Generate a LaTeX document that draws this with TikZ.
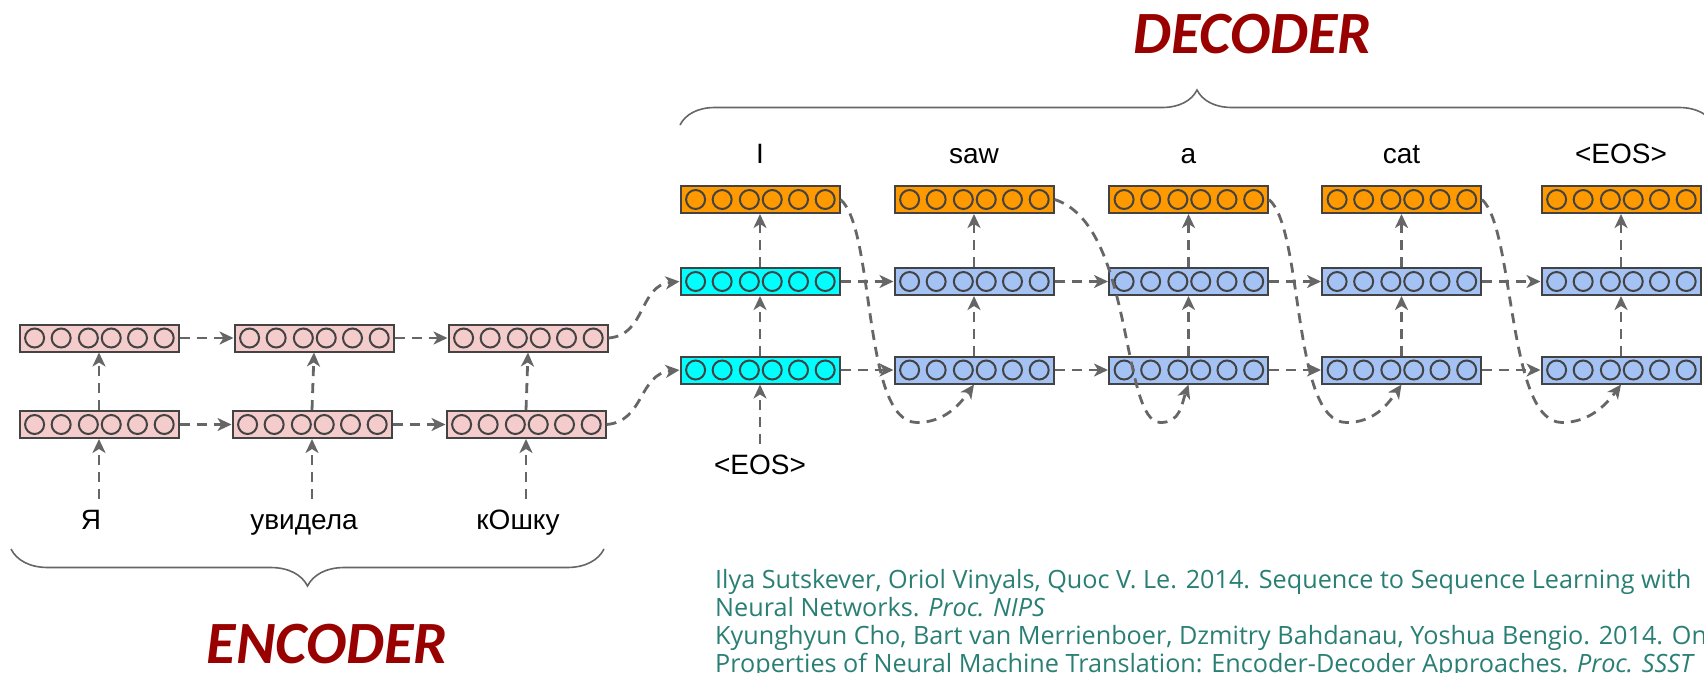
\documentclass[tikz,border=0pt]{standalone}
\usepackage{fontspec}
\setmainfont{Liberation Sans}
\newfontfamily\refsfont{Open Sans}
\newfontfamily\bannerfont{Carlito}
\usetikzlibrary{arrows.meta,positioning,calc,decorations.pathreplacing}
\definecolor{rim}{RGB}{67,67,67}
\definecolor{wire}{RGB}{102,102,102}
\definecolor{rose}{RGB}{244,204,204}
\definecolor{tangerine}{RGB}{255,153,0}
\definecolor{aqua}{RGB}{0,255,255}
\definecolor{sky}{RGB}{164,194,244}
\definecolor{crimson}{RGB}{153,0,0}
\definecolor{sea}{RGB}{42,127,117}
\tikzset{
  >={Stealth[length=14pt,width=13pt,inset=4pt]},
  vec/.style={draw=rim,line width=2pt,fill=#1,minimum width=159pt,minimum height=27pt,inner sep=0pt,
    path picture={
      \foreach \u in {0.095,0.262,0.433,0.577,0.742,0.91}
        \draw[rim,line width=2pt] ($(path picture bounding box.west)!\u!(path picture bounding box.east)$) circle[radius=9.5pt];
    }},
  vec/.default=sky,
  flow/.style={->,draw=wire,line width=2.8pt,dash pattern=on 10pt off 7pt},
  tag/.style={font=\fontsize{28}{30}\selectfont,text height=20pt,text depth=6pt,inner sep=10pt},
  banner/.style={font=\bannerfont\bfseries\itshape\fontsize{60}{66}\selectfont,text=crimson,inner sep=0pt,text depth=0pt,anchor=base},
  refline/.style={font=\refsfont\fontsize{25.2}{28}\selectfont,text=sea,inner sep=0pt,anchor=base west},
  curly/.style={draw=wire,line width=1.6pt,decorate,decoration={brace,amplitude=#1}},
}
\begin{document}
\begin{tikzpicture}[x=1pt,y=-1pt]
  \useasboundingbox (0,0) rectangle (1704,672);
  \clip (0,0) rectangle (1704,672);

  % encoder
  \foreach \x/\xb [count=\i] in {99/99,314/312,528/526}{
    \node[vec=rose] (etop\i) at (\x,338) {};
    \node[vec=rose] (ebot\i) at (\xb,424.5) {};
  }
  \foreach \w [count=\i] in {Я,увидела,кОшку}
    \node[tag,anchor=base] (src\i) at ($(ebot\i.south)+(-8,90)$) {\w};
  \foreach \i in {1,2,3}{
    \draw[flow] (src\i.north -| ebot\i.south) -- (ebot\i.south);
    \draw[flow] (ebot\i.north) -- (etop\i.south);
  }
  \foreach \i/\j in {1/2,2/3}{
    \draw[flow] (etop\i.east) -- (etop\j.west);
    \draw[flow] (ebot\i.east) -- (ebot\j.west);
  }

  % decoder
  \foreach \x/\c [count=\i] in {760/aqua,974/sky,1188.5/sky,1401.5/sky,1621/sky}{
    \node[vec=tangerine] (dtop\i) at (\x,199.5) {};
    \node[vec=\c] (dmid\i) at (\x,281.5) {};
    \node[vec=\c] (dbot\i) at (\x,370) {};
  }
  \foreach \w [count=\i] in {I,saw,a,cat,<EOS>}
    \node[tag,anchor=base] (tgt\i) at ($(dtop\i.north)+(0,-22)$) {\w};
  \node[tag,anchor=base] (go) at ($(dbot1.south)+(0,89.5)$) {<EOS>};
  \draw[flow] (go.north) -- (dbot1.south);
  \foreach \i in {1,...,5}{
    \draw[flow] (dbot\i.north) -- (dmid\i.south);
    \draw[flow] (dmid\i.north) -- (dtop\i.south);
  }
  \foreach \i/\j in {1/2,2/3,3/4,4/5}{
    \draw[flow] (dmid\i.east) -- (dmid\j.west);
    \draw[flow] (dbot\i.east) -- (dbot\j.west);
  }
  % feed the word back in
  \foreach \i/\j/\ox/\oy/\bx/\lx in {1/2/35/30/-57/55,2/3/80/25/-28/40,3/4/35/30/-55/55,4/5/33/30/-59/55}
    \draw[flow] (dtop\i.east) .. controls ($(dtop\i.east)+(\ox,\oy)$) and ($(dbot\j.south)+(\bx-\lx,38)$)
      .. ($(dbot\j.south)+(\bx,38)$) .. controls ($(dbot\j.south)+(\bx+\lx/2,38)$) and ($(dbot\j.south)+(\bx/4,20)$)
      .. (dbot\j.south);

  % hand over the state
  \draw[flow] (etop3.east) .. controls ($(etop3.east)+(38,-3)$) and ($(dmid1.west)+(-41,4)$) .. (dmid1.west);
  \draw[flow] (ebot3.east) .. controls ($(ebot3.east)+(38,-3)$) and ($(dbot1.west)+(-41,4)$) .. (dbot1.west);

  \draw[curly=35] (680,125) -- (1714,125);
  \draw[curly=37] (604,549) -- (11,549);
  \node[banner] (dec) at (1252.5,53) {DECODER};
  \node[banner] (enc) at (327,663) {ENCODER};

  \node[refline] (ref1) at (715,588) {Ilya Sutskever, Oriol Vinyals, Quoc V. Le. 2014. Sequence to Sequence Learning with};
  \node[refline] (ref2) at (715,616) {Neural Networks. \textit{Proc. NIPS}};
  \node[refline] (ref3) at (715,644) {Kyunghyun Cho, Bart van Merrienboer, Dzmitry Bahdanau, Yoshua Bengio. 2014. On};
  \node[refline] (ref4) at (715,672) {Properties of Neural Machine Translation: Encoder-Decoder Approaches. \textit{Proc. SSST}};
\end{tikzpicture}
\end{document}
